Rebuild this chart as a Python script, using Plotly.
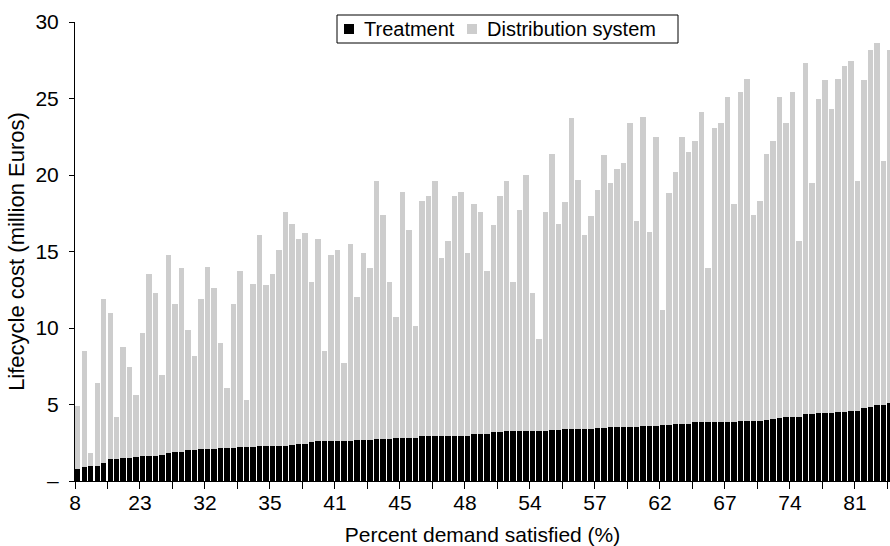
import plotly.graph_objects as go

# Treatment cost (black, bottom of stack), million Euros, one per design
treatment = [
    0.76, 0.94, 1.00, 1.00, 1.15, 1.46, 1.46, 1.50, 1.50, 1.60,
    1.66, 1.66, 1.66, 1.70, 1.85, 1.90, 1.90, 2.03, 2.03, 2.10,
    2.10, 2.10, 2.15, 2.15, 2.15, 2.20, 2.20, 2.20, 2.30, 2.30,
    2.30, 2.30, 2.30, 2.37, 2.40, 2.45, 2.55, 2.60, 2.60, 2.60,
    2.60, 2.60, 2.60, 2.65, 2.70, 2.70, 2.77, 2.77, 2.77, 2.83,
    2.83, 2.83, 2.83, 2.96, 2.96, 2.96, 2.96, 2.96, 2.96, 2.96,
    2.96, 3.05, 3.10, 3.10, 3.20, 3.20, 3.27, 3.27, 3.27, 3.27,
    3.27, 3.27, 3.27, 3.33, 3.33, 3.38, 3.38, 3.38, 3.38, 3.38,
    3.44, 3.44, 3.50, 3.50, 3.50, 3.50, 3.55, 3.60, 3.60, 3.60,
    3.66, 3.66, 3.75, 3.75, 3.75, 3.83, 3.88, 3.88, 3.88, 3.88,
    3.88, 3.88, 3.94, 3.94, 3.94, 3.94, 4.00, 4.05, 4.14, 4.20,
    4.20, 4.20, 4.38, 4.38, 4.42, 4.47, 4.47, 4.50, 4.50, 4.55,
    4.55, 4.80, 4.86, 4.95, 4.95, 5.08,
]

# Total lifecycle cost (top of each stacked bar), million Euros
total_cost = [
    4.90, 8.50, 1.85, 6.40, 11.90, 10.96, 4.20, 8.74, 7.43, 5.60,
    9.70, 13.50, 12.30, 6.90, 14.80, 11.57, 13.90, 9.85, 8.15, 11.90,
    14.00, 12.60, 9.04, 6.06, 11.60, 13.70, 5.30, 12.90, 16.10, 12.80,
    13.50, 15.10, 17.56, 16.80, 15.80, 16.20, 13.00, 15.80, 8.50, 14.80,
    15.10, 7.70, 15.50, 12.00, 14.90, 13.90, 19.60, 17.40, 13.00, 10.70,
    18.90, 16.40, 10.10, 18.30, 18.60, 19.60, 14.60, 15.70, 18.60, 18.90,
    14.90, 18.10, 17.60, 13.70, 16.70, 18.60, 19.60, 13.00, 17.70, 20.00,
    12.30, 9.26, 17.56, 21.35, 16.80, 18.26, 23.75, 19.70, 16.10, 17.30,
    19.00, 21.30, 19.50, 20.40, 20.76, 23.40, 17.00, 23.80, 16.25, 22.46,
    11.20, 18.80, 20.20, 22.46, 21.50, 22.20, 24.10, 13.90, 23.10, 23.40,
    25.10, 18.10, 25.40, 26.30, 17.40, 18.30, 21.40, 22.20, 25.10, 23.40,
    25.40, 15.70, 27.30, 19.50, 25.00, 26.20, 24.30, 26.30, 27.10, 27.45,
    19.60, 26.20, 28.20, 28.60, 20.90, 28.20,
]

# Distribution-system cost = stacked segment on top of treatment
distribution = [round(t - b, 2) for t, b in zip(total_cost, treatment)]

# Percent demand satisfied, labelled every 10th design
x_tick_labels = ["8", "23", "32", "35", "41", "45", "48", "54", "57", "62", "67", "74", "81"]

y_tick_values = [0, 5, 10, 15, 20, 25, 30]
y_tick_labels = ["\u2013", "5", "10", "15", "20", "25", "30"]

series_names = ["Treatment", "Distribution system"]
series_colors = ["#000000", "#cdcdcd"]

n = len(treatment)
xpos = list(range(n))

tickvals = list(range(0, n, 5))
ticktext = [x_tick_labels[k // 2] if k % 2 == 0 else "" for k in range(len(tickvals))]

FONT = "Liberation Sans, Arial, Helvetica, sans-serif"
FS = 21

fig = go.Figure()
for vals, name, col in zip([treatment, distribution], series_names, series_colors):
    fig.add_trace(go.Bar(
        x=xpos, y=vals, name=name,
        marker=dict(color=col, line=dict(width=0)),
        width=0.84, offset=0,
    ))

# plot area in pixels: x 75..890, y 22..481
L, R, T, B = 75, 890, 22, 481
def px(x):
    return (x - L) / (R - L)
def py(y):
    return (B - y) / (B - T)

# Legend box drawn manually to match the compact boxed legend
shapes = [
    dict(type="rect", xref="paper", yref="paper",
         x0=px(337), x1=px(678), y0=py(43), y1=py(15),
         line=dict(color="black", width=1), fillcolor="white", layer="above"),
]
annotations = []
leg_items = [(344, 362), (467, 485)]
for (sx, tx), name, col in zip(leg_items, series_names, series_colors):
    shapes.append(dict(type="rect", xref="paper", yref="paper",
                       x0=px(sx), x1=px(sx + 10), y0=py(34), y1=py(24),
                       line=dict(width=0), fillcolor=col, layer="above"))
    annotations.append(dict(xref="paper", yref="paper", x=px(tx), y=py(29),
                            xanchor="left", yanchor="middle", showarrow=False,
                            text=name, font=dict(family=FONT, size=20, color="black")))

fig.update_layout(
    barmode="stack",
    width=890, height=546,
    margin=dict(l=L, r=890 - R, t=T, b=546 - B, pad=0),
    paper_bgcolor="white", plot_bgcolor="white",
    font=dict(family=FONT, size=FS, color="black"),
    showlegend=False,
    shapes=shapes,
    annotations=annotations,
    bargap=0,
)

fig.update_xaxes(
    range=[0, 125.4],
    tickmode="array", tickvals=tickvals, ticktext=ticktext,
    ticks="outside", ticklen=7, tickwidth=1, tickcolor="black",
    ticklabelstandoff=-4,
    showline=True, linecolor="black", linewidth=1,
    showgrid=False, zeroline=False,
    tickfont=dict(family=FONT, size=FS, color="black"),
    title=dict(text="Percent demand satisfied (%)", standoff=14,
               font=dict(family=FONT, size=FS, color="black")),
)
fig.update_yaxes(
    range=[0, 30],
    tickmode="array", tickvals=y_tick_values, ticktext=y_tick_labels,
    ticks="outside", ticklen=5, tickwidth=1, tickcolor="black",
    ticklabelstandoff=6,
    showline=True, linecolor="black", linewidth=1,
    showgrid=False, zeroline=False,
    tickfont=dict(family=FONT, size=FS, color="black"),
    title=dict(text="Lifecycle cost (million Euros)", standoff=4,
               font=dict(family=FONT, size=22, color="black")),
)

fig.write_html("out.html")
